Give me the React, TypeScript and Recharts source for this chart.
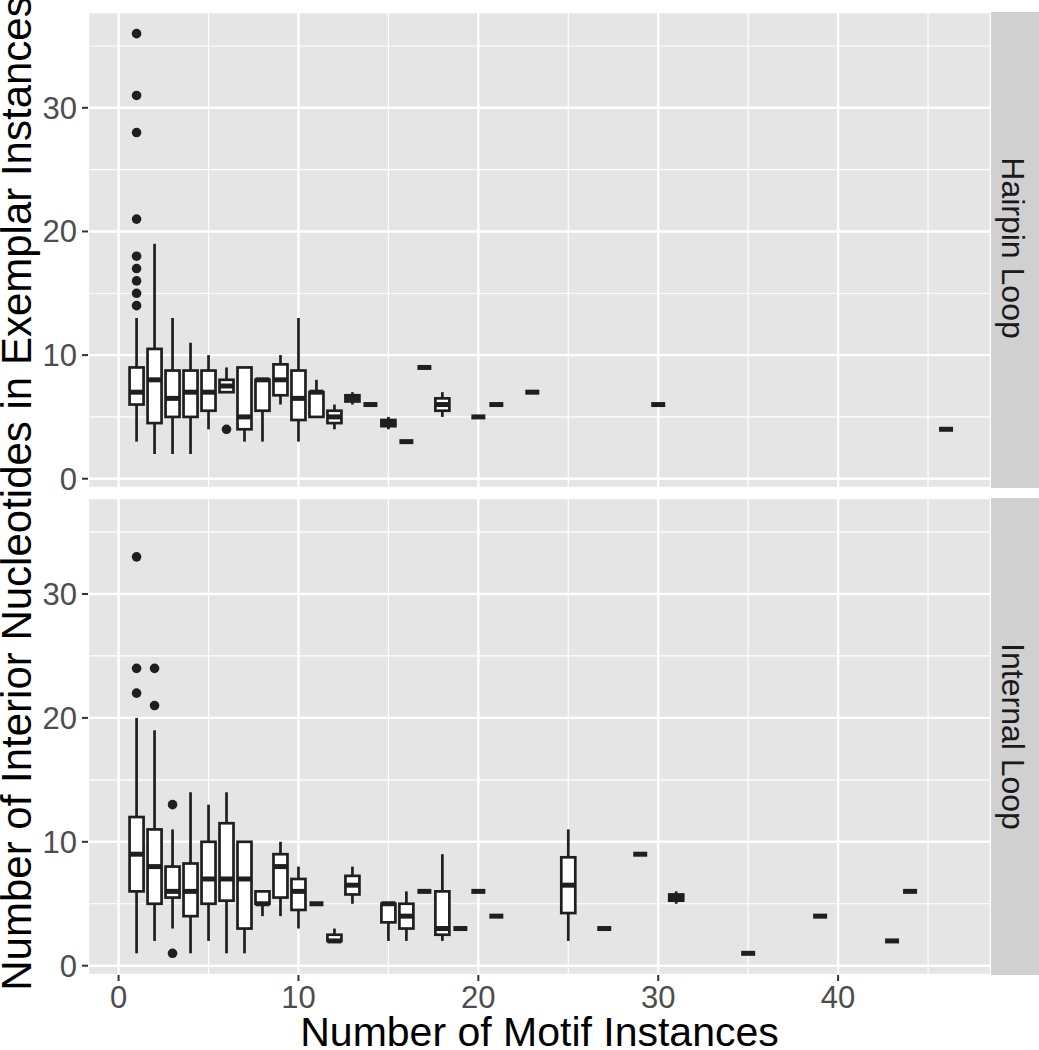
import React from 'react';
import { ComposedChart, Bar, Scatter, XAxis, YAxis, CartesianGrid } from 'recharts';

const FONT = '"Liberation Sans", Arial, Helvetica, sans-serif';
const INK = '#1f1f1f';

const xTicks = [0, 10, 20, 30, 40];
const xMinorTicks = [5, 15, 25, 35, 45];
const yTicks = [0, 10, 20, 30];
const yMinorTicks = [5, 15, 25, 35];
const xDomain = [-1.7, 48.5];
const yDomain = [-0.75, 37.75];

// Hairpin Loop: [min, q1, median, q3, max]
const hairpinX = [1, 2, 3, 4, 5, 6, 7, 8, 9, 10, 11, 12, 13, 14, 15, 16, 17, 18, 20, 21, 23, 30, 46];
const hairpinStats = [
  [3, 6, 7, 9, 13],
  [2, 4.5, 8, 10.5, 19],
  [2, 5, 6.5, 8.75, 13],
  [2, 5, 7, 8.75, 11],
  [4, 5.5, 7, 8.75, 10],
  [7, 7, 7.5, 8, 9],
  [3, 4, 5, 9, 9],
  [3, 5.5, 8, 8, 8],
  [6, 6.75, 8, 9.25, 10],
  [3, 4.75, 6.5, 8.75, 13],
  [5, 5, 7, 7, 8],
  [4, 4.5, 5, 5.5, 6],
  [6, 6.25, 6.5, 6.75, 7],
  [6, 6, 6, 6, 6],
  [4, 4.25, 4.5, 4.75, 5],
  [3, 3, 3, 3, 3],
  [9, 9, 9, 9, 9],
  [5, 5.5, 6, 6.5, 7],
  [5, 5, 5, 5, 5],
  [6, 6, 6, 6, 6],
  [7, 7, 7, 7, 7],
  [6, 6, 6, 6, 6],
  [4, 4, 4, 4, 4],
];
const hairpinOutX = [1, 1, 1, 1, 1, 1, 1, 1, 1, 6];
const hairpinOutY = [36, 31, 28, 21, 18, 17, 16, 15, 14, 4];

// Internal Loop: [min, q1, median, q3, max]
const internalX = [1, 2, 3, 4, 5, 6, 7, 8, 9, 10, 11, 12, 13, 15, 16, 17, 18, 19, 20, 21, 25, 27, 29, 31, 35, 39, 43, 44];
const internalStats = [
  [1, 6, 9, 12, 20],
  [2, 5, 8, 11, 19],
  [3, 5.5, 6, 8, 11],
  [1, 4, 6, 8.25, 14],
  [2, 5, 7, 10, 13],
  [1, 5.25, 7, 11.5, 14],
  [1, 3, 7, 10, 10],
  [4, 5, 5, 6, 6],
  [4, 5.5, 8, 9, 10],
  [3, 4.5, 6, 7, 8],
  [5, 5, 5, 5, 5],
  [2, 2, 2, 2.5, 3],
  [5, 5.75, 6.5, 7.25, 8],
  [2, 3.5, 5, 5, 5],
  [2, 3, 4, 5, 6],
  [6, 6, 6, 6, 6],
  [2, 2.5, 3, 6, 9],
  [3, 3, 3, 3, 3],
  [6, 6, 6, 6, 6],
  [4, 4, 4, 4, 4],
  [2, 4.25, 6.5, 8.75, 11],
  [3, 3, 3, 3, 3],
  [9, 9, 9, 9, 9],
  [5, 5.25, 5.5, 5.75, 6],
  [1, 1, 1, 1, 1],
  [4, 4, 4, 4, 4],
  [2, 2, 2, 2, 2],
  [6, 6, 6, 6, 6],
];
const internalOutX = [1, 1, 1, 2, 2, 3, 3];
const internalOutY = [33, 24, 22, 24, 21, 13, 1];

const toRows = (xs: number[], stats: number[][]) =>
  xs.map((x, i) => {
    const [min, q1, med, q3, max] = stats[i];
    // lo/hi pad the range so the bar never has zero height; the shape uses them to map values
    return { x, min, q1, med, q3, max, lo: min - 1, hi: max + 1 };
  });

const toPoints = (xs: number[], ys: number[]) => xs.map((x, i) => ({ x, y: ys[i] }));

const BoxShape = (props: any) => {
  const { x, y, width, height, payload } = props;
  if (!payload || !isFinite(y) || !isFinite(height)) return null;
  const { lo, hi, min, q1, med, q3, max } = payload;
  const k = height / (hi - lo);
  const py = (v: number) => y + (hi - v) * k;
  const cx = x + width / 2;
  return (
    <g>
      <line x1={cx} x2={cx} y1={py(max)} y2={py(q3)} stroke={INK} strokeWidth={2.7} />
      <line x1={cx} x2={cx} y1={py(q1)} y2={py(min)} stroke={INK} strokeWidth={2.7} />
      <rect x={x} y={py(q3)} width={width} height={py(q1) - py(q3)} fill="#fff" stroke={INK} strokeWidth={2.7} />
      <line x1={x} x2={x + width} y1={py(med)} y2={py(med)} stroke={INK} strokeWidth={5} />
    </g>
  );
};

const Dot = (props: any) => {
  const { cx, cy } = props;
  if (!isFinite(cx) || !isFinite(cy)) return null;
  return <circle cx={cx} cy={cy} r={4.8} fill={INK} />;
};

interface PanelProps {
  rows: ReturnType<typeof toRows>;
  points: { x: number; y: number }[];
  showX: boolean;
  height: number;
  top: number;
}

const Panel: React.FC<PanelProps> = ({ rows, points, showX, height, top }) => (
  <div style={{ position: 'absolute', left: 0, top }}>
    <ComposedChart
      width={991}
      height={height}
      data={rows}
      margin={{ top: showX ? 0 : 12, right: 0, bottom: showX ? 0 : 10, left: 0 }}
    >
      <CartesianGrid xAxisId="minor" yAxisId="minor" fill="#E5E5E5" stroke="#ffffff" strokeWidth={1.2} />
      <CartesianGrid stroke="#ffffff" strokeWidth={2.4} />
      <XAxis xAxisId="minor" type="number" dataKey="x" domain={xDomain} ticks={xMinorTicks} allowDataOverflow hide />
      <YAxis yAxisId="minor" type="number" domain={yDomain} ticks={yMinorTicks} allowDataOverflow hide />
      <XAxis
        type="number"
        dataKey="x"
        domain={xDomain}
        ticks={xTicks}
        interval={0}
        allowDataOverflow
        hide={!showX}
        height={45}
        axisLine={false}
        tickLine={{ stroke: '#333333', strokeWidth: 2 }}
        tickSize={6}
        tickMargin={5}
        tick={{ fill: '#4D4D4D', fontSize: 31, fontFamily: FONT }}
      />
      <YAxis
        type="number"
        domain={yDomain}
        ticks={yTicks}
        interval={0}
        allowDataOverflow
        width={88}
        axisLine={false}
        tickLine={{ stroke: '#333333', strokeWidth: 2 }}
        tickSize={6}
        tickMargin={5}
        tick={{ fill: '#4D4D4D', fontSize: 31, fontFamily: FONT }}
      />
      <Bar dataKey={(d: any) => [d.lo, d.hi]} barSize={14} shape={BoxShape} isAnimationActive={false} />
      <Scatter data={points} dataKey="y" shape={Dot} isAnimationActive={false} />
    </ComposedChart>
  </div>
);

const App: React.FC = () => {
  const hairpinRows = toRows(hairpinX, hairpinStats);
  const internalRows = toRows(internalX, internalStats);
  return (
    <div style={{ position: 'absolute', left: 0, top: 0, width: 1039, height: 1050, background: '#fff', overflow: 'hidden' }}>
      <svg width={1039} height={1050} style={{ position: 'absolute', left: 0, top: 0 }}>
        <rect x={991} y={12} width={48} height={476} fill="#D0D0D0" />
        <rect x={991} y={498} width={48} height={477} fill="#D0D0D0" />
        <text transform="translate(1002, 248) rotate(90)" textAnchor="middle" fontSize={32} fontFamily={FONT} fill="#1A1A1A">
          Hairpin Loop
        </text>
        <text transform="translate(1002, 736.5) rotate(90)" textAnchor="middle" fontSize={32} fontFamily={FONT} fill="#1A1A1A">
          Internal Loop
        </text>
        <text transform="translate(31, 493.5) rotate(-90)" textAnchor="middle" fontSize={42} fontFamily={FONT} fill="#000">
          Number of Interior Nucleotides in Exemplar Instances
        </text>
        <text x={539.5} y={1046} textAnchor="middle" fontSize={41} fontFamily={FONT} fill="#000">
          Number of Motif Instances
        </text>
      </svg>
      <Panel rows={hairpinRows} points={toPoints(hairpinOutX, hairpinOutY)} showX={false} height={498} top={0} />
      <Panel rows={internalRows} points={toPoints(internalOutX, internalOutY)} showX={true} height={522} top={498} />
    </div>
  );
};

export default App;
